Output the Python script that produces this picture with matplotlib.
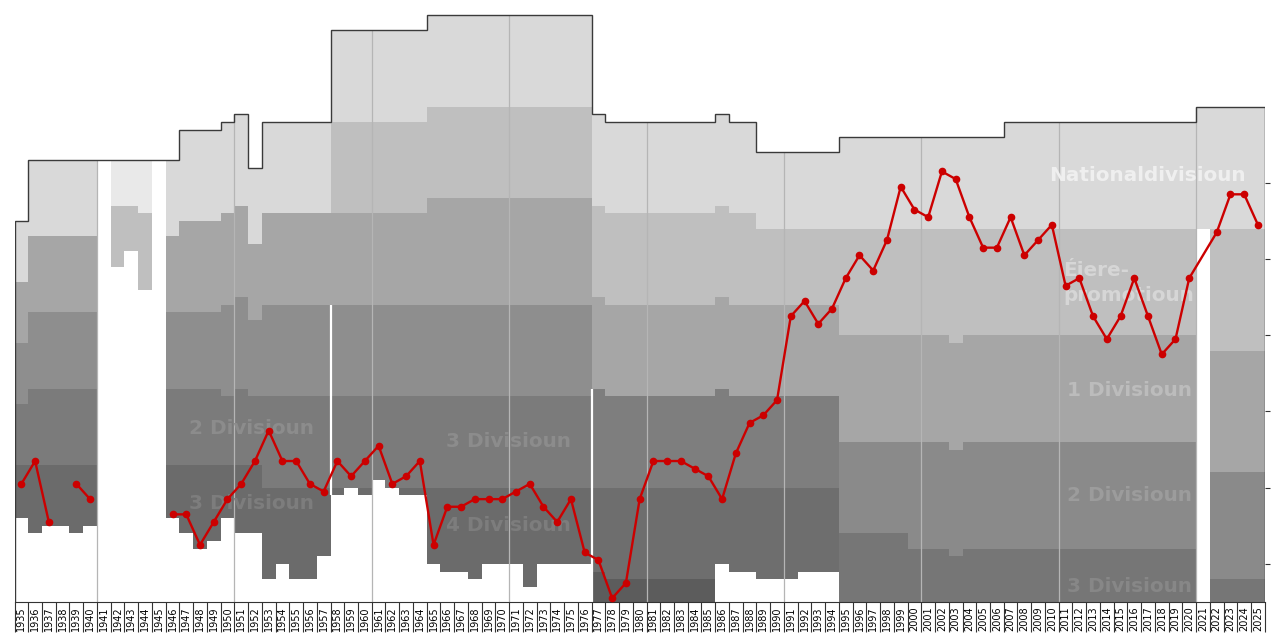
import matplotlib.pyplot as plt
import numpy as np

nan = np.nan
seasons = list(range(1935, 2026))

# band edges per season, in table places counted from the top of the chart
top_edge = [15, 7, 7, 7, 7, 7,  7, 7, 7, 7, 7, 7,  3, 3, 3, 2, 1, 8,  2, 2, 2, 2, 2,
            -10, -10, -10, -10, -10, -10, -10,
            -12, -12, -12, -12, -12, -12, -12, -12, -12, -12, -12, -12,
            1, 2, 2, 2, 2, 2, 2, 2, 2, 1, 2, 2, 6, 6, 6, 6, 6, 6,
            4, 4, 4, 4, 4, 4, 4, 4, 4, 4, 4, 4,
            2, 2, 2, 2, 2, 2, 2, 2, 2, 2, 2, 2, 2, 2,
            0, 0, 0, 0, 0]
edge_2 = [23, 17, 17, 17, 17, 17,  nan, 13, 13, 14, nan, 17,  15, 15, 15, 14, 13, 18,  14, 14, 14, 14, 14,
          2, 2, 2, 2, 2, 2, 2,
          0, 0, 0, 0, 0, 0, 0, 0, 0, 0, 0, 0,
          13, 14, 14, 14, 14, 14, 14, 14, 14, 13, 14, 14, 16, 16, 16, 16, 16, 16,
          16, 16, 16, 16, 16, 16, 16, 16, 16, 16, 16, 16,
          16, 16, 16, 16, 16, 16, 16, 16, 16, 16, 16, 16, 16, 16,
          nan, 16, 16, 16, 16]
edge_3 = [31, 27, 27, 27, 27, 27,  nan, nan, nan, nan, nan, 27,  27, 27, 27, 26, 25, 28,  26, 26, 26, 26, 26,
          14, 14, 14, 14, 14, 14, 14,
          12, 12, 12, 12, 12, 12, 12, 12, 12, 12, 12, 12,
          25, 26, 26, 26, 26, 26, 26, 26, 26, 25, 26, 26, 26, 26, 26, 26, 26, 26,
          30, 30, 30, 30, 30, 30, 30, 30, 31, 30, 30, 30,
          30, 30, 30, 30, 30, 30, 30, 30, 30, 30, 30, 30, 30, 30,
          nan, 32, 32, 32, 32]
edge_4 = [39, 37, 37, 37, 37, 37,  nan, nan, nan, nan, nan, 37,  37, 37, 37, 38, 37, 38,  38, 38, 38, 38, 38,
          26, 26, 26, 26, 26, 26, 26,
          26, 26, 26, 26, 26, 26, 26, 26, 26, 26, 26, 26,
          37, 38, 38, 38, 38, 38, 38, 38, 38, 37, 38, 38, 38, 38, 38, 38, 38, 38,
          44, 44, 44, 44, 44, 44, 44, 44, 45, 44, 44, 44,
          44, 44, 44, 44, 44, 44, 44, 44, 44, 44, 44, 44, 44, 44,
          nan, 48, 48, 48, 48]
edge_5 = [47, 47, 47, 47, 47, 47,  nan, nan, nan, nan, nan, 47,  47, 47, 47, 47, 47, 47,  50, 50, 50, 50, 50,
          38, 38, 38, 38, 38, 38, 38,
          38, 38, 38, 38, 38, 38, 38, 38, 38, 38, 38, 38,
          50, 50, 50, 50, 50, 50, 50, 50, 50, 50, 50, 50, 50, 50, 50, 50, 50, 50,
          56, 56, 56, 56, 56, 58, 58, 58, 59, 58, 58, 58,
          58, 58, 58, 58, 58, 58, 58, 58, 58, 58, 58, 58, 58, 58,
          nan, 62, 62, 62, 62]
edge_6 = [nan] * 23 + [50] * 7 + [50] * 12 + \
         [61, 62, 62, 62, 62, 62, 62, 62, 62, 61, 62, 62, 62, 62, 62, 62, 62, 62] + [nan] * 31
floor = [54, 56, 55, 55, 56, 55,  nan, 21, 19, 24, nan, 54,  56, 58, 57, 54, 56, 56,  62, 60, 62, 62, 59,
         51, 50, 51, 49, 50, 51, 51,
         60, 61, 61, 62, 60, 60, 60, 63, 60, 60, 60, 60,
         65, 65, 65, 65, 65, 65, 65, 65, 65, 60, 61, 61, 62, 62, 62, 61, 61, 61,
         65, 65, 65, 65, 65, 65, 65, 65, 65, 65, 65, 65,
         65, 65, 65, 65, 65, 65, 65, 65, 65, 65, 65, 65, 65, 65,
         16, 65, 65, 65, 65]

# league structures and their grey shades (top division first)
era_start = [1935, 1958, 1977, 1995]
era_shades = [
    ['#d9d9d9', '#a6a6a6', '#8e8e8e', '#7b7b7b', '#6b6b6b'],
    ['#d9d9d9', '#bfbfbf', '#a6a6a6', '#8e8e8e', '#7b7b7b', '#6b6b6b'],
    ['#d9d9d9', '#bfbfbf', '#a6a6a6', '#7e7e7e', '#6e6e6e', '#5c5c5c'],
    ['#d9d9d9', '#bfbfbf', '#a6a6a6', '#8a8a8a', '#767676'],
]
war_seasons = [1942, 1943, 1944]
war_shades = ['#e9e9e9', '#bfbfbf']

# club's final place, table places from the top of the chart
club_years = list(range(1935, 2021)) + [2022, 2023, 2024, 2025]
club_place = [49.5, 46.5, 54.5, nan, 49.5, 51.5, nan, nan, nan, nan, nan,
              53.5, 53.5, 57.5, 54.5, 51.5, 49.5, 46.5, 42.5, 46.5, 46.5, 49.5, 50.5,
              46.5, 48.5, 46.5, 44.5, 49.5, 48.5, 46.5,
              57.5, 52.5, 52.5, 51.5, 51.5, 51.5, 50.5, 49.5, 52.5, 54.5, 51.5, 58.5,
              59.5, 64.5, 62.5, 51.5, 46.5, 46.5, 46.5, 47.5, 48.5, 51.5, 45.5, 41.5, 40.5, 38.5,
              27.5, 25.5, 28.5, 26.5, 22.5, 19.5, 21.5, 17.5, 10.5, 13.5,
              14.5, 8.5, 9.5, 14.5, 18.5, 18.5, 14.5, 19.5, 17.5, 15.5,
              23.5, 22.5, 27.5, 30.5, 27.5, 22.5, 27.5, 32.5, 30.5, 22.5,
              16.5, 11.5, 11.5, 15.5]

labels = ['Nationaldivisioun', 'Éiere-', 'promotioun', '1 Divisioun', '2 Divisioun', '3 Divisioun',
          '2 Divisioun', '3 Divisioun', '3 Divisioun', '4 Divisioun']
label_x = [2016.94, 2010.83, 2010.83, 2015.65, 2015.65, 2015.65, 1951.76, 1951.76, 1970.47, 1970.47]
label_y = [9.8, 22.2, 25.5, 38.0, 51.8, 63.7, 43.0, 52.8, 44.7, 55.7]
label_ha = ['center', 'left', 'left', 'center', 'center', 'center', 'center', 'center', 'center', 'center']
label_color = ['#efefef', '#d6d6d6', '#d6d6d6', '#bcbcbc', '#9c9c9c', '#878787',
               '#8c8c8c', '#7d7d7d', '#8c8c8c', '#7d7d7d']

fig = plt.figure(figsize=(12.8, 6.4), dpi=100)
ax = fig.add_axes([14.5 / 1280, 38 / 640, 1250.3 / 1280, 602 / 640])

# division bands
bx, bbot, bh, bc = [], [], [], []
for i, yr in enumerate(seasons):
    if np.isnan(floor[i]):
        continue
    edges = [e for e in (top_edge[i], edge_2[i], edge_3[i], edge_4[i], edge_5[i], edge_6[i]) if not np.isnan(e)]
    if yr in war_seasons:
        shades = war_shades
    else:
        shades = era_shades[sum(yr >= s for s in era_start) - 1]
    edges.append(floor[i])
    for k in range(len(edges) - 1):
        lo = min(edges[k + 1], floor[i])
        if lo <= edges[k]:
            continue
        bx.append(yr)
        bbot.append(edges[k])
        bh.append(lo - edges[k])
        bc.append(shades[k])
ax.bar(bx, bh, bottom=bbot, width=1.0, color=bc, linewidth=0, antialiased=False, zorder=1)

# decade separators
for d in range(1940, 2021, 10):
    i = seasons.index(d)
    ax.vlines(d + 0.5, min(top_edge[i], top_edge[i + 1]), 65, color='#b5b5b5', lw=0.9, zorder=2)
# league reorganisations
ax.vlines(1957.5, 26, 51, color='white', lw=1.6, zorder=2)
ax.vlines(1976.5, 37, 65, color='white', lw=1.6, zorder=2)

for t, x, y, ha, c in zip(labels, label_x, label_y, label_ha, label_color):
    ax.text(x, y, t, ha=ha, va='baseline', fontsize=14.4, fontweight='bold', color=c,
            family='DejaVu Sans', zorder=3)

# outline of the pyramid
ax.stairs(top_edge, np.arange(1934.5, 2026.5), baseline=65, fill=False,
          color='#3a3a3a', lw=1.0, zorder=4)

ax.plot(club_years, club_place, color='#cc0000', lw=1.7, marker='o', markersize=4.5, zorder=5)

ax.set_xlim(1934.5, 2025.5)
ax.set_ylim(65, -14)

ax.set_xticks(np.arange(1934.5, 2026.5, 1.0))
ax.set_xticklabels([])
ax.set_xticks(seasons, minor=True)
ax.set_xticklabels([str(s) for s in seasons], minor=True, rotation=90, fontsize=7)
ax.tick_params(axis='x', which='major', length=21.6, width=0.8, color='#333333')
ax.tick_params(axis='x', which='minor', length=0, pad=3)

ax.yaxis.tick_right()
ax.set_yticks([10, 20, 30, 40, 50, 60])
ax.set_yticklabels([])
ax.tick_params(axis='y', length=3.6, width=0.8, color='#333333')

for side in ['top', 'left', 'right']:
    ax.spines[side].set_visible(False)
ax.spines['bottom'].set_color('#333333')
ax.patch.set_alpha(0)

fig.savefig('out.png', dpi=100)
